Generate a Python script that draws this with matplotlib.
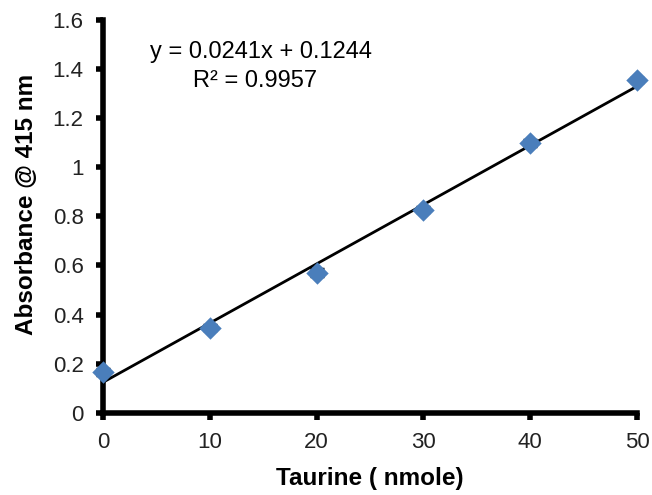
import numpy as np
import matplotlib.pyplot as plt

taurine = [0, 10, 20, 30, 40, 50]
absorbance = [0.168, 0.347, 0.570, 0.826, 1.097, 1.355]
abs_err = [0.012, 0.010, 0.014, 0.010, 0.012, 0.008]
slope, intercept = 0.0241, 0.1244

plt.rcParams['font.family'] = ['Liberation Sans', 'DejaVu Sans']

fig = plt.figure(figsize=(6.52, 4.95), dpi=100)
ax = fig.add_axes([0.158, 0.166, 0.819, 0.794])

ax.errorbar(taurine, absorbance, yerr=abs_err, fmt='none', ecolor='black',
            elinewidth=1, capsize=5, capthick=2.5, zorder=2, clip_on=False)
fit_x = np.array([taurine[0], taurine[-1]])
ax.plot(fit_x, slope * fit_x + intercept, color='black', lw=2, zorder=3)
ax.scatter(taurine, absorbance, marker='D', s=130, color='#4a7ebb', zorder=4,
           linewidths=0, clip_on=False)

ax.set_xlim(0, 50)
ax.set_ylim(0, 1.6)
ax.set_xticks(range(0, 51, 10))
ax.set_yticks(np.arange(0, 1.61, 0.2))
ax.set_yticklabels(['0', '0.2', '0.4', '0.6', '0.8', '1', '1.2', '1.4', '1.6'])
for s in ['top', 'right']:
    ax.spines[s].set_visible(False)
for s in ['left', 'bottom']:
    ax.spines[s].set_linewidth(4)
    ax.spines[s].set_capstyle('projecting')
ax.tick_params(direction='out', length=5, width=4, labelsize=16, pad=9,
               labelcolor='#222222')

ax.set_xlabel('Taurine ( nmole)', fontsize=17.5, fontweight='bold', labelpad=10)
ax.set_ylabel('Absorbance @ 415 nm', fontsize=17.5, fontweight='bold')
ax.yaxis.set_label_coords(-0.122, 0.53)

ax.text(0.296, 0.918, 'y = 0.0241x + 0.1244', transform=ax.transAxes,
        fontsize=17, ha='center', va='center')
ax.text(0.285, 0.845, 'R\u00b2 = 0.9957', transform=ax.transAxes,
        fontsize=17, ha='center', va='center')

fig.savefig('out.png', dpi=100)
